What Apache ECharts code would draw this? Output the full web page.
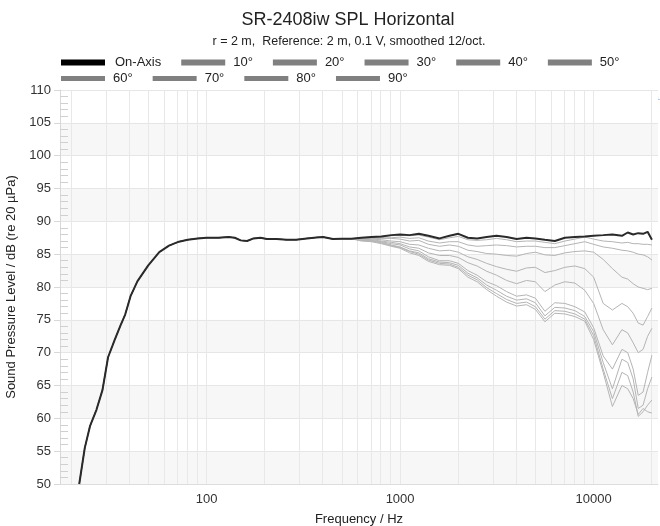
<!DOCTYPE html>
<html>
<head>
<meta charset="utf-8">
<script src="https://cdn.jsdelivr.net/npm/echarts@6/dist/echarts.min.js"></script>
<style>
  html, body { margin: 0; padding: 0; background: #fff; }
  #chart { width: 660px; height: 526px; }
</style>
</head>
<body>
<div id="chart"></div>
<script>
// frequencies (Hz) shared by the low band (all curves coincide there)
const lowFreqs = [22, 23.5, 25, 27, 29, 31, 33.5, 36, 38, 40.5, 44, 50, 57, 64, 72, 80, 90, 100,
  115, 130, 140, 150, 162, 175, 190, 205, 230, 260, 290, 330, 370, 400, 450, 500, 560];
const lowBand = [50.0, 55.5, 58.8, 61.3, 64.3, 69.3, 71.9, 74.2, 75.8, 78.6, 80.9, 83.3, 85.3, 86.3, 86.9, 87.2, 87.4, 87.5,
  87.5, 87.6, 87.5, 87.1, 87.0, 87.4, 87.5, 87.3, 87.3, 87.2, 87.2, 87.4, 87.55, 87.6, 87.3, 87.35, 87.35];

// frequencies (Hz) of the high band, where the curves split
const highFreqs = [630, 710, 800, 900, 1000, 1120, 1250, 1400, 1600, 1800, 2000, 2240, 2500, 2800, 3150, 3550,
  4000, 4500, 5000, 5600, 6300, 7100, 8000, 9000, 10000, 11200, 12500, 14000, 15000, 16000, 17000, 18000, 19000, 20000];

const onAxis = [87.5, 87.6, 87.7, 87.9, 88.0, 87.9, 88.1, 87.8, 87.4, 87.8, 88.1, 87.5, 87.4, 87.6, 87.8, 87.6,
  87.3, 87.5, 87.4, 87.2, 87.0, 87.5, 87.6, 87.7, 87.8, 87.9, 88.0, 87.8, 88.3, 88.0, 88.2, 88.1, 88.4, 87.2];
const deg10 = [87.5, 87.5, 87.6, 87.8, 87.9, 87.8, 87.9, 87.6, 87.2, 87.5, 87.7, 87.2, 87.1, 87.2, 87.4, 87.2,
  86.9, 87.0, 87.0, 86.8, 86.6, 87.0, 87.3, 87.6, 87.3, 87.0, 86.9, 86.7, 86.8, 86.6, 86.6, 86.5, 86.5, 86.4];
const deg20 = [87.5, 87.5, 87.5, 87.5, 87.6, 87.4, 87.5, 87.0, 86.7, 86.9, 86.9, 86.4, 86.2, 86.3, 86.4, 86.3,
  86.1, 86.2, 86.2, 86.0, 86.0, 86.3, 86.6, 86.9, 86.5, 86.1, 85.9, 85.6, 85.5, 85.3, 85.0, 84.9, 84.6, 84.1];
const deg30 = [87.4, 87.4, 87.4, 87.4, 87.3, 87.0, 87.1, 86.5, 86.2, 86.4, 86.2, 85.6, 85.4, 85.1, 85.0, 84.8,
  84.7, 85.1, 85.3, 84.9, 84.8, 85.2, 85.4, 85.5, 85.3, 84.2, 82.8, 81.5, 81.2, 80.5, 80.0, 79.8, 79.6, 79.8];
const deg40 = [87.4, 87.3, 87.2, 87.0, 86.9, 86.5, 86.4, 85.9, 85.5, 85.6, 85.3, 84.6, 84.2, 83.6, 83.1, 82.7,
  82.4, 82.9, 83.0, 82.2, 82.5, 83.0, 83.2, 82.8, 81.5, 77.5, 76.5, 77.5, 77.0, 76.0, 74.5, 74.2, 75.5, 76.8];
const deg50 = [87.3, 87.2, 87.0, 86.8, 86.6, 86.1, 85.9, 85.2, 84.8, 84.8, 84.5, 83.7, 83.2, 82.4, 81.8, 81.0,
  80.5, 81.0, 80.8, 79.3, 80.3, 80.8, 80.6, 79.5, 77.5, 73.5, 71.2, 73.5, 73.0, 71.5, 70.0, 70.5, 72.5, 73.7];
const deg60 = [87.2, 87.1, 86.9, 86.6, 86.4, 85.8, 85.5, 84.6, 84.0, 84.0, 83.6, 82.5, 81.8, 80.8, 80.2, 79.3,
  78.6, 78.8, 78.3, 76.3, 77.6, 77.5, 77.0, 76.2, 73.8, 69.5, 67.5, 70.5, 70.0, 67.5, 63.5, 64.0, 67.0, 69.6];
const deg70 = [87.1, 87.0, 86.8, 86.4, 86.1, 85.5, 85.2, 84.3, 83.8, 83.7, 83.3, 82.1, 81.4, 80.3, 79.5, 78.6,
  78.0, 78.2, 77.6, 75.6, 76.9, 76.8, 76.4, 75.5, 73.2, 68.5, 64.5, 69.0, 68.5, 66.0, 61.5, 62.0, 64.5, 66.3];
const deg80 = [87.1, 87.0, 86.7, 86.3, 86.0, 85.4, 85.0, 84.1, 83.6, 83.5, 83.0, 81.8, 81.1, 79.9, 79.0, 78.1,
  77.5, 77.7, 77.0, 75.1, 76.4, 76.3, 75.9, 75.1, 72.6, 67.5, 63.0, 67.0, 66.5, 64.0, 60.3, 61.0, 62.0, 62.8];
const deg90 = [87.0, 86.9, 86.6, 86.2, 85.9, 85.2, 84.8, 83.9, 83.4, 83.3, 82.8, 81.5, 80.8, 79.6, 78.6, 77.7,
  77.1, 77.3, 76.6, 74.7, 76.0, 75.9, 75.5, 74.8, 72.0, 67.0, 61.8, 65.0, 64.5, 63.0, 60.6, 61.5, 61.0, 60.8];

const curveNames = ['On-Axis', '10°', '20°', '30°', '40°', '50°', '60°', '70°', '80°', '90°'];
const curveValues = [onAxis, deg10, deg20, deg30, deg40, deg50, deg60, deg70, deg80, deg90];

// x axis labels and vertical grid lines (Hz)
const xLabelFreqs = [100, 1000, 10000];
const gridFreqs = [20, 30, 40, 50, 60, 70, 80, 90, 100, 200, 300, 400, 500, 600, 700, 800, 900, 1000,
  2000, 3000, 4000, 5000, 6000, 7000, 8000, 9000, 10000, 20000];

const lg = Math.log10;

function buildLine(high) {
  const pts = [];
  lowFreqs.forEach((f, i) => pts.push([lg(f), lowBand[i]]));
  highFreqs.forEach((f, i) => pts.push([lg(f), high[i]]));
  return pts;
}

const chart = echarts.init(document.getElementById('chart'));

// vertical log grid, kept under the curves
const series = [{
  name: 'grid',
  type: 'line',
  data: [],
  silent: true,
  z: 1,
  markLine: {
    z: 1,
    silent: true,
    symbol: ['none', 'none'],
    label: { show: false },
    animation: false,
    lineStyle: { color: '#e8e8e8', width: 1, type: 'solid' },
    data: gridFreqs.map(f => ({ xAxis: lg(f) }))
  }
}];

// on-axis drawn on top of the gray angle curves
curveNames.forEach((name, k) => {
  series.push({
    name: name,
    type: 'line',
    data: buildLine(curveValues[k]),
    showSymbol: false,
    symbol: 'none',
    z: k === 0 ? 4 : 3,
    color: k === 0 ? '#000' : '#808080',
    lineStyle: k === 0
      ? { color: '#2a2a2a', width: 2 }
      : { color: '#b4b4b4', width: 1 },
    animation: false
  });
});

const legendText = { fontSize: 13, color: '#222', fontFamily: 'Liberation Sans' };
const grayItem = n => ({ name: n, itemStyle: { color: '#808080' }, textStyle: { padding: [0, 3, 0, 3] } });

const option = {
  animation: false,
  textStyle: { fontFamily: 'Liberation Sans' },
  graphic: [
    { type: 'text', x: 348, y: 20, style: { text: 'SR-2408iw SPL Horizontal', fontSize: 18, fill: '#222',
      fontFamily: 'Liberation Sans', align: 'center', verticalAlign: 'middle' } },
    { type: 'text', x: 349, y: 42, style: { text: 'r = 2 m,  Reference: 2 m, 0.1 V, smoothed 12/oct.', fontSize: 12.5, fill: '#222',
      fontFamily: 'Liberation Sans', align: 'center', verticalAlign: 'middle' } },
    { type: 'text', x: 639, y: 99, style: { text: 'KLIPPEL', fontSize: 5, fill: '#6a9cc8', fontWeight: 'bold',
      fontFamily: 'Liberation Sans', align: 'left', verticalAlign: 'middle' } }
  ],
  legend: [{
    left: 61, top: 56, padding: 0, orient: 'horizontal', icon: 'rect',
    itemWidth: 44, itemHeight: 6, itemGap: 20,
    textStyle: legendText,
    data: [{ name: 'On-Axis', itemStyle: { color: '#000' }, textStyle: { padding: [0, 0, 0, 5] } },
      grayItem('10°'), grayItem('20°'), grayItem('30°'), grayItem('40°'), grayItem('50°')]
  }, {
    left: 61, top: 72, padding: 0, orient: 'horizontal', icon: 'rect',
    itemWidth: 44, itemHeight: 5, itemGap: 20,
    textStyle: legendText,
    data: [grayItem('60°'), grayItem('70°'), grayItem('80°'), grayItem('90°')]
  }],
  grid: { left: 60, right: 2, top: 90, bottom: 42, outerBoundsMode: 'none' },
  xAxis: {
    type: 'value',
    min: lg(17.5),
    max: lg(21500),
    name: 'Frequency / Hz',
    nameLocation: 'middle',
    nameGap: 29,
    nameTextStyle: { fontSize: 13, color: '#222' },
    axisLine: { show: true, lineStyle: { color: '#dddddd' } },
    axisTick: { show: false },
    splitLine: { show: false },
    axisLabel: {
      customValues: xLabelFreqs.map(f => lg(f)),
      formatter: v => String(Math.round(Math.pow(10, v))),
      fontSize: 13, color: '#333', margin: 9
    }
  },
  yAxis: {
    type: 'value',
    min: 50,
    max: 110,
    interval: 5,
    name: 'Sound Pressure Level / dB (re 20 µPa)',
    nameLocation: 'middle',
    nameGap: 38,
    nameTextStyle: { fontSize: 13, color: '#222' },
    axisLine: { show: true, lineStyle: { color: '#d8d8d8' } },
    axisTick: { show: true, length: 6, lineStyle: { color: '#d8d8d8' } },
    minorTick: { show: true, splitNumber: 5, length: -8, lineStyle: { color: '#d0d0d0' } },
    axisLabel: { fontSize: 13, color: '#333', margin: 9 },
    splitLine: { show: true, lineStyle: { color: '#e6e6e6' } },
    splitArea: { show: true, areaStyle: { color: ['#f7f7f7', '#ffffff'] } }
  },
  series: series
};

chart.setOption(option);
</script>
</body>
</html>
